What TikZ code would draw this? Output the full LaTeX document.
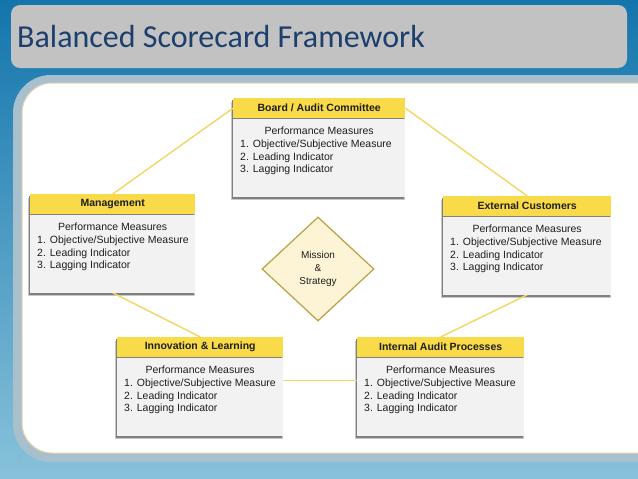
\documentclass[tikz,border=0pt]{standalone}
\usepackage{fontspec}
\setmainfont{Liberation Sans}
\newfontfamily\titlefont{Carlito}
\usetikzlibrary{shapes.geometric}
\pgfdeclarelayer{bg}
\pgfdeclarelayer{lines}
\pgfsetlayers{bg,lines,main}
\definecolor{bgtop}{HTML}{1375AC}
\definecolor{bgbot}{HTML}{88C2DA}
\definecolor{titlebar}{HTML}{C2C2C2}
\definecolor{titleblue}{HTML}{1C3F6E}
\definecolor{panelrim}{HTML}{A8C0CE}
\definecolor{paneledge}{HTML}{E2D3A8}
\definecolor{hdryellow}{HTML}{F9DB4A}
\definecolor{bodygrey}{HTML}{F2F2F2}
\definecolor{linkyellow}{HTML}{F4D662}
\definecolor{diafill}{HTML}{FDF4D6}
\definecolor{diadraw}{HTML}{B9A043}
\definecolor{txt}{HTML}{1E1E1E}
\definecolor{pagenum}{HTML}{8FB3C6}
% #1 name, #2 x, #3 y, #4 width, #5 title
\newcommand{\scbox}[5]{%
  \node[hdr, minimum width=#4pt, anchor=north west] (#1h) at (#2,#3) {#5};
  \node[bodybox, minimum width=#4pt, anchor=north] (#1b) at (#1h.south) {};
  \node[pmtext, anchor=base] (#1p) at ([yshift=-16.5pt]#1b.north) {Performance Measures};
  \node[pmtext, anchor=north west, align=left] (#1l) at ([xshift=7pt,yshift=-21.3pt]#1b.north west)
    {1. Objective/Subjective Measure\\2. Leading Indicator\\3. Lagging Indicator};
  \begin{pgfonlayer}{lines}
    \fill[black!22] ([xshift=-2.5pt,yshift=-3.5pt]#1h.north west) rectangle ([xshift=-0.5pt,yshift=-3.5pt]#1b.south east);
    \fill[black!50] ([xshift=-1.5pt,yshift=-2pt]#1h.north west) rectangle ([xshift=-1pt,yshift=-2pt]#1b.south east);
  \end{pgfonlayer}
}
\begin{document}
\begin{tikzpicture}[x=1pt,y=-1pt,
  hdr/.style={rectangle, fill=hdryellow, minimum height=20pt, inner sep=0pt,
    font=\fontsize{10.5}{12.6}\selectfont\bfseries, text=txt},
  bodybox/.style={rectangle, fill=bodygrey, minimum height=78pt, inner sep=0pt},
  pmtext/.style={inner sep=0pt, font=\fontsize{10.5}{12.6}\selectfont, text=txt},
  link/.style={draw=linkyellow, line width=1.4pt},
  ]
\useasboundingbox (0,0) rectangle (638,479);
\begin{pgfonlayer}{bg}
  \begin{scope}
    \clip (0,0) rectangle (638,479);
    \shade[top color=bgtop, bottom color=bgbot] (0,0) rectangle (638,479);
    \fill[titlebar, rounded corners=9pt] (11,5) rectangle (627,68);
    \fill[panelrim, rounded corners=38pt] (13,75) rectangle (700,462);
    \filldraw[fill=white, draw=paneledge, line width=1pt, rounded corners=30pt] (22,83) rectangle (700,453);
  \end{scope}
\end{pgfonlayer}

\node[anchor=base west, inner sep=0pt, font=\titlefont\fontsize{32}{38}\selectfont, text=titleblue]
  (title) at (17,47) {Balanced Scorecard Framework};
\node[anchor=base west, inner sep=0pt, font=\fontsize{7}{8}\selectfont, text=pagenum] (pg) at (17,462) {6};

\scbox{board}{233}{98}{172}{Board / Audit Committee}
\scbox{mgmt}{30}{194}{165}{Management}
\scbox{ext}{443}{196}{168}{External Customers}
\scbox{inn}{117}{337}{166}{Innovation \& Learning}
\scbox{int}{357}{337}{167}{Internal Audit Processes}

\node[diamond, draw=diadraw, fill=diafill, line width=1.2pt, minimum width=112pt, minimum height=104pt,
  inner sep=0pt, align=center, font=\fontsize{10}{13}\selectfont, text=txt] (ms) at (318,269)
  {Mission\\\&\\Strategy};

\begin{pgfonlayer}{lines}
  \draw[link] (mgmth.north) -- (boardh.west);
  \draw[link] (boardh.east) -- (exth.north);
  \draw[link] (mgmtb.south) -- (innh.north);
  \draw[link] (extb.south) -- (inth.north);
  \draw[link] ([yshift=16pt]innb.east) -- ([yshift=16pt]intb.west);
\end{pgfonlayer}
\end{tikzpicture}
\end{document}
